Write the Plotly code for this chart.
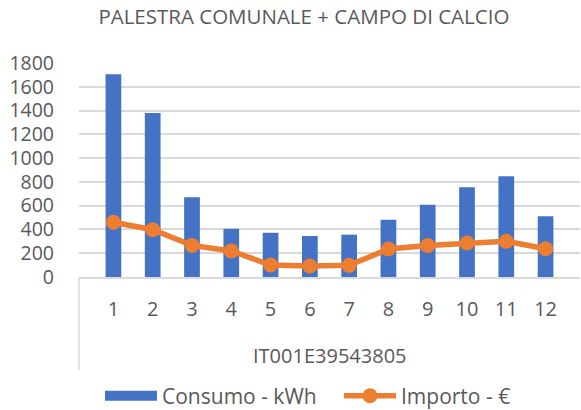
import plotly.graph_objects as go

# dati
mesi = ["1", "2", "3", "4", "5", "6", "7", "8", "9", "10", "11", "12"]
pod = "IT001E39543805"
consumo_kwh = [1705, 1380, 670, 405, 372, 345, 356, 482, 608, 754, 847, 510]
importo_eur = [460, 398, 266, 219, 101, 93, 98, 235, 264, 286, 300, 238]

blu = "#4472C4"
arancio = "#ED7D31"
grigio = "#595959"

fig = go.Figure()
fig.add_trace(go.Bar(x=mesi, y=consumo_kwh, name="Consumo - kWh", showlegend=False,
                     marker=dict(color=blu, line=dict(width=0)), width=0.4))
# voce di legenda con il rettangolo largo come in Excel
fig.add_trace(go.Scatter(x=[None], y=[None], mode="lines", name="Consumo - kWh",
                         line=dict(color=blu, width=14)))
fig.add_trace(go.Scatter(x=mesi, y=importo_eur, name="Importo - €", mode="lines+markers",
                         line=dict(color=arancio, width=5.5),
                         marker=dict(color=arancio, size=15)))

fig.update_layout(
    width=581, height=410,
    paper_bgcolor="white", plot_bgcolor="white",
    margin=dict(l=79, r=1, t=63, b=133),
    font=dict(family="Open Sans", color=grigio, size=20),
    title=dict(text="PALESTRA COMUNALE + CAMPO DI CALCIO", x=0.523, xanchor="center",
               y=0.958, yanchor="middle", font=dict(size=20.5, color=grigio)),
    showlegend=True,
    legend=dict(orientation="h", xref="container", yref="container",
                x=100 / 581, xanchor="left", y=0.034, yanchor="middle",
                font=dict(size=21), tracegroupgap=0, itemwidth=52,
                entrywidth=172, entrywidthmode="pixels"),
    annotations=[dict(text=pod, xref="paper", yref="paper", x=0.5, y=-(355 - 277) / 214,
                      xanchor="center", yanchor="middle", showarrow=False,
                      font=dict(size=20, color=grigio))],
    shapes=[dict(type="line", xref="paper", yref="paper", x0=0, x1=0,
                 y0=0, y1=-(370 - 277) / 214, line=dict(color="#D9D9D9", width=1.5))],
)
fig.update_yaxes(range=[0, 1800], dtick=200, showgrid=True, gridcolor="#D9D9D9",
                 gridwidth=1.5, zeroline=False, showline=False, ticks="",
                 automargin=False, ticklabelstandoff=24, tickfont=dict(size=19.5))
fig.update_xaxes(showline=True, linecolor="#D9D9D9", linewidth=1.5, ticks="",
                 automargin=False, ticklabelstandoff=13)

fig.write_html("out.html", config={"displayModeBar": False},
               post_script="document.body.style.margin='0';")
